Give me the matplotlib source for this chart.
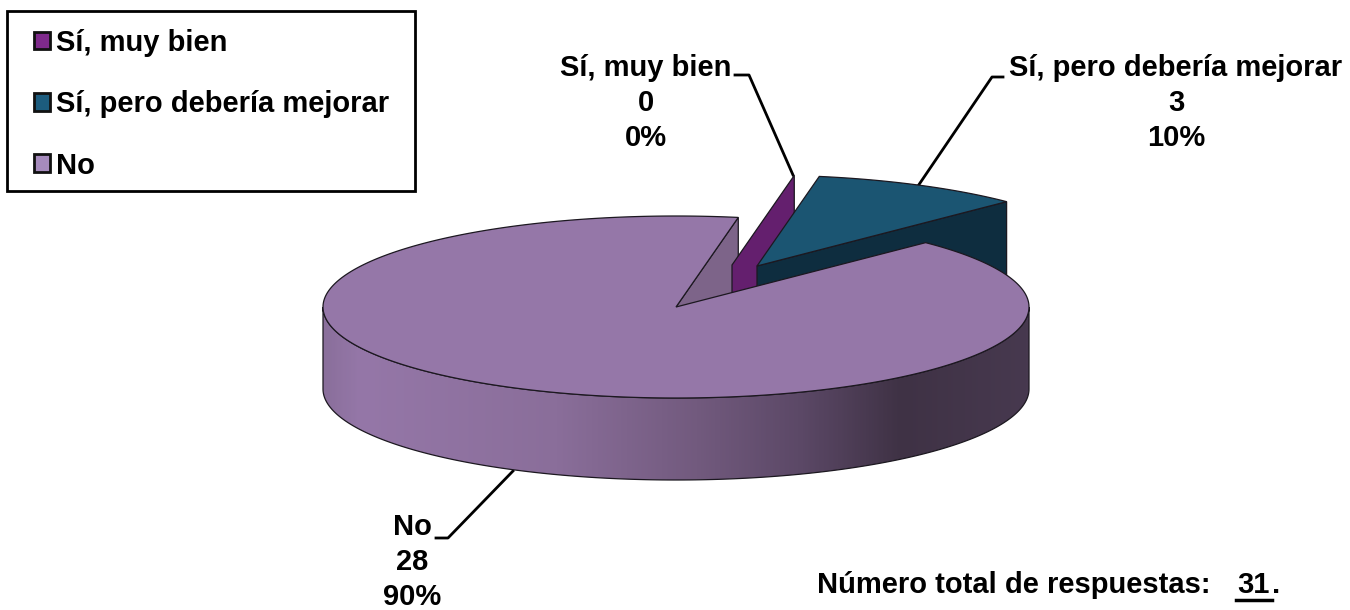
import numpy as np
import matplotlib.pyplot as plt
from matplotlib.colors import LinearSegmentedColormap
from matplotlib.patches import Patch, Polygon, Rectangle

plt.rcParams["font.family"] = ["Liberation Sans", "DejaVu Sans"]
plt.rcParams["font.weight"] = "bold"

# chart data
categories = ["Sí, muy bien", "Sí, pero debería mejorar", "No"]
counts = [0, 3, 28]
percents = ["0%", "10%", "90%"]
total = 31

legend_colors = ["#7f2a8c", "#1c5c7e", "#a68bbd"]
top_colors = ["#641f6e", "#1b5572", "#9577a8"]
cut_colors = ["#641f6e", "#0e2d3f", "#7d6489"]

# pie geometry in pixels
CX, CY = 676, 307
RX, RY = 353, 91
DEPTH = 82
START = 45.0
# explode offset of each slice
offsets = [(56, -42), (81, -41), (0, 0)]

FONT = 21
EDGE = "#1c1820"


def rim(theta, dx=0, dy=0):
    rad = np.radians(theta)
    return CX + dx + RX * np.cos(rad), CY + dy - RY * np.sin(rad)


fig = plt.figure(figsize=(13.5, 6.1), dpi=100)
ax = fig.add_axes([0, 0, 1, 1])
ax.set_xlim(0, 1350)
ax.set_ylim(610, 0)
ax.axis("off")

# slice angles, No runs from the end of the others round to START
sweep_blue = counts[1] / total * 360
end_blue = START + sweep_blue

# cut face shared by the zero slice and the No slice
for i in (2, 0):
    dx, dy = offsets[i]
    x0, y0 = CX + dx, CY + dy
    x1, y1 = rim(end_blue, dx, dy)
    ax.add_patch(Polygon([(x0, y0), (x1, y1), (x1, y1 + DEPTH), (x0, y0 + DEPTH)],
                         fc=cut_colors[i], ec=EDGE, lw=0.9, zorder=2 if i == 2 else 3))

# blue slice
dx, dy = offsets[1]
x0, y0 = CX + dx, CY + dy
x1, y1 = rim(START, dx, dy)
ax.add_patch(Polygon([(x0, y0), (x1, y1), (x1, y1 + DEPTH), (x0, y0 + DEPTH)],
                     fc=cut_colors[1], ec=EDGE, lw=0.9, zorder=4))
th = np.linspace(START, end_blue, 60)
xs, ys = rim(th, dx, dy)
ax.add_patch(Polygon(np.vstack([[x0, y0], np.column_stack([xs, ys])]),
                     fc=top_colors[1], ec=EDGE, lw=0.9, zorder=5))

# No slice, side wall with the shading
th = np.linspace(180, 360, 200)
xs, ys = rim(th)
wall = Polygon(np.vstack([np.column_stack([xs, ys]),
                          np.column_stack([xs[::-1], ys[::-1] + DEPTH])]),
               fc="none", ec=EDGE, lw=0.9, zorder=7)
ax.add_patch(wall)
cmap = LinearSegmentedColormap.from_list("wall", [
    (0.0, "#8a6f9b"), (0.05, "#9577a8"), (0.33, "#8a6e9a"), (0.53, "#725a7e"),
    (0.68, "#5b4866"), (0.82, "#3f3245"), (1.0, "#47394f")])
img = ax.imshow(np.linspace(0, 1, 400).reshape(1, -1), cmap=cmap, aspect="auto",
                extent=[CX - RX, CX + RX, CY + RY + DEPTH, CY - RY], zorder=6)
img.set_clip_path(wall)
ax.set_xlim(0, 1350)
ax.set_ylim(610, 0)

# No slice, top face
th = np.linspace(end_blue, START + 360, 400)
xs, ys = rim(th)
ax.add_patch(Polygon(np.vstack([[CX, CY], np.column_stack([xs, ys])]),
                     fc=top_colors[2], ec=EDGE, lw=0.9, zorder=8))

# leader lines
ax.plot([735, 749, 793], [75, 75, 175], color="black", lw=2, zorder=1)
ax.plot([1003, 992, 918], [77, 77, 186], color="black", lw=2, zorder=1)
ax.plot([436, 448, 513], [538, 538, 471], color="black", lw=2, zorder=1)

# data labels
label_pos = [(646, 103), (1176, 103), (412, 562)]
for name, n, pct, (lx, ly) in zip(categories, counts, percents, label_pos):
    for k, s in enumerate([name, str(n), pct]):
        ax.text(lx, ly + (k - 1) * 35, s, ha="center", va="center", fontsize=FONT, color="black")

# total
ax.text(817, 585, "Número total de respuestas:", ha="left", va="center", fontsize=FONT)
ax.text(1237, 585, str(total), ha="left", va="center", fontsize=FONT)
ax.plot([1236, 1272], [600, 600], color="black", lw=2.5)
ax.text(1272, 585, ".", ha="left", va="center", fontsize=FONT)

# legend, box drawn apart since its padding is not even
ax.add_patch(Rectangle((7, 11), 408, 180, fc="white", ec="black", lw=2, zorder=19))
handles = [Patch(fc=c, ec="#111111", lw=2) for c in legend_colors]
leg = ax.legend(handles, categories, loc="upper left", bbox_to_anchor=(34 / 1350, 1 - 29 / 610),
                fontsize=FONT, frameon=False, borderaxespad=0, borderpad=0, labelspacing=1.14,
                handlelength=0.55, handleheight=0.55, handletextpad=0.22)
leg.set_zorder(20)

fig.savefig("out.png", dpi=100)
